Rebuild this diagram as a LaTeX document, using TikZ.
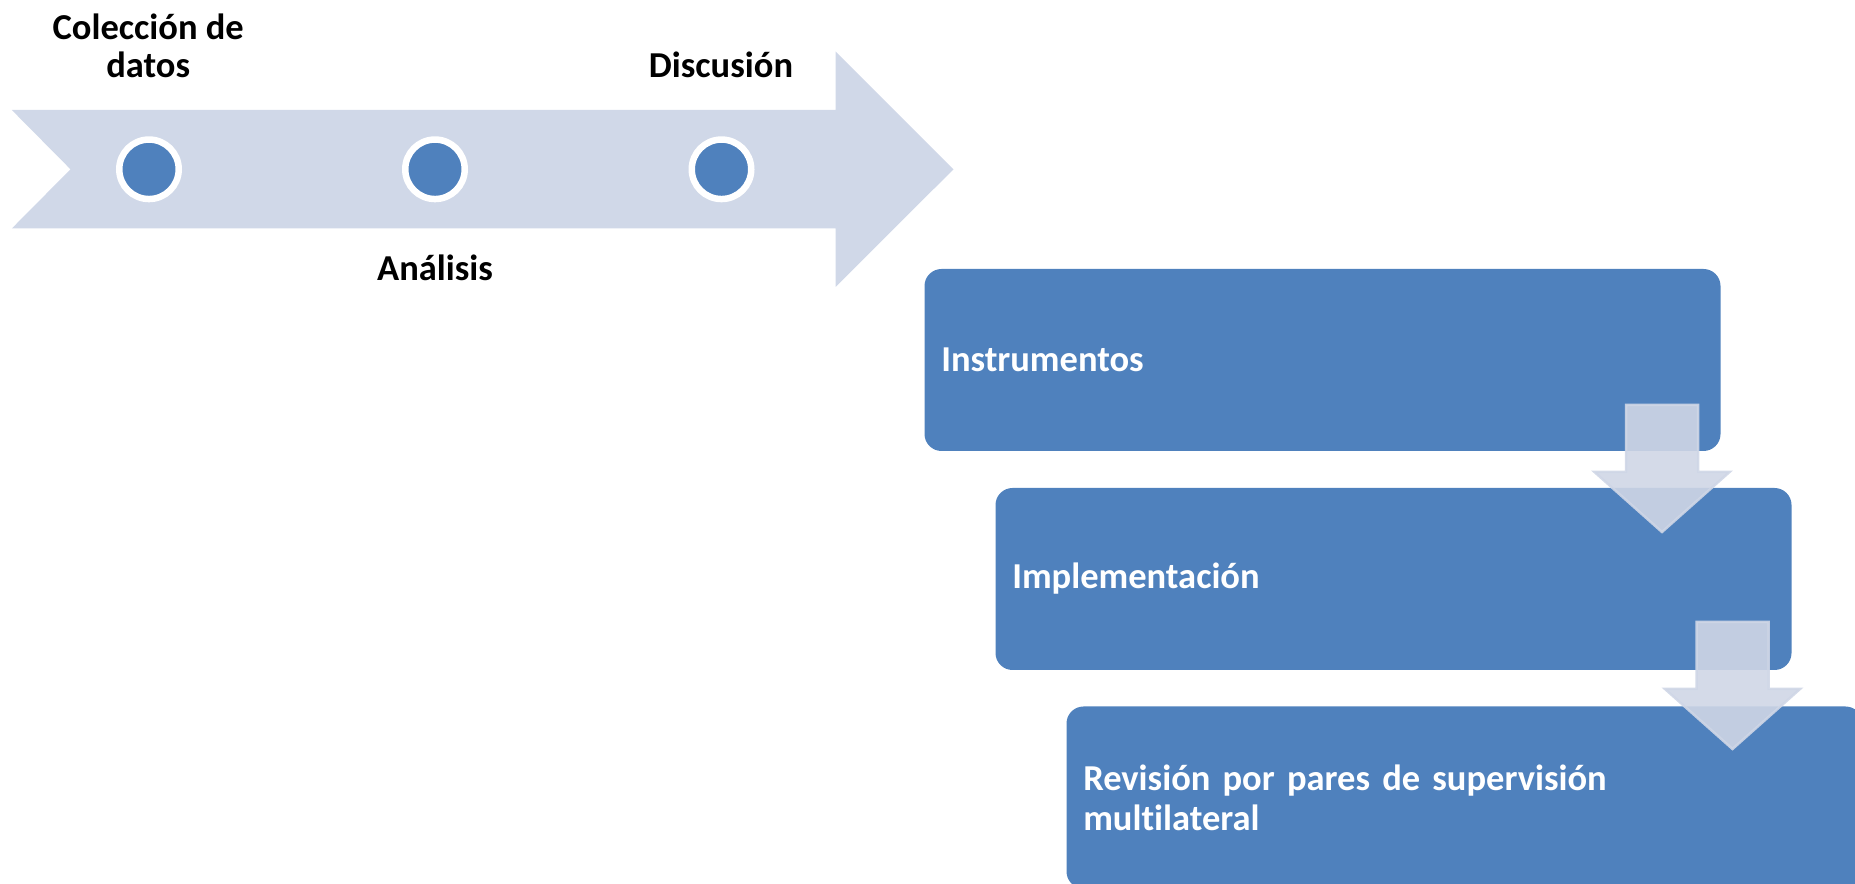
\documentclass[tikz,border=0pt]{standalone}
\usepackage{fontspec}
\setmainfont{Carlito}[Ligatures=NoCommon]
\usetikzlibrary{calc}
\definecolor{accblue}{RGB}{79,129,189}
\definecolor{lightarrow}{RGB}{208,216,232}
\definecolor{downfill}{RGB}{207,214,230}
\begin{document}
\begin{tikzpicture}[x=0.4pt,y=-0.4pt,
  lbl/.style={font=\bfseries\fontsize{14.6pt}{15.2pt}\selectfont, inner sep=0pt, align=center, anchor=base},
  dot/.style={circle, fill=accblue, draw=white, line width=2.6pt, minimum size=23.8pt, inner sep=0pt},
  stepbox/.style={rectangle, rounded corners=6.8pt, fill=accblue, minimum width=318.4pt, minimum height=72.8pt,
    text width=305pt, align=left, inner xsep=6.7pt, inner ysep=0pt, anchor=north west, text=white,
    font=\bfseries\fontsize{14.6pt}{16pt}\selectfont},
  downarrow/.style={fill=downfill, fill opacity=0.9, draw=downfill, draw opacity=0.9, line width=1pt, line join=miter},
  pics/downarr/.style={code={
    \path[downarrow] (-36,0) -- (36,0) -- (36,67) -- (67.5,67) -- (0,127) -- (-67.5,67) -- (-36,67) -- cycle;
  }}
]
\useasboundingbox (0,0) rectangle (1855,884);
\clip (0,0) rectangle (1855,884);
% timeline arrow
\fill[lightarrow] (11.8,110) -- (835.5,110) -- (835.5,51.5) -- (953.5,169.3) -- (835.5,287) -- (835.5,228.5) -- (11.8,228.5) -- (70.5,169.3) -- cycle;
\node[dot] (d1) at (149,169.3) {};
\node[dot] (d2) at (435,169.3) {};
\node[dot] (d3) at (721.5,169.3) {};
\node[lbl] (t1) at (148.2,77.3) {Colección de\\datos};
\node[lbl] (t3) at (721,77.3) {Discusión};
\node[lbl] (t2) at (435,280.7) {Análisis};
% boxes
\node[stepbox] (b1) at (924,268.5) {Instrumentos};
\node[stepbox] (b2) at (995,487.5) {Implementación};
\node[stepbox] (b3) at (1066,706) {Revisión por pares de supervisión\\multilateral};
% down arrows
\pic at (1662,405) {downarr};
\pic at (1732.5,622) {downarr};
\end{tikzpicture}
\end{document}
